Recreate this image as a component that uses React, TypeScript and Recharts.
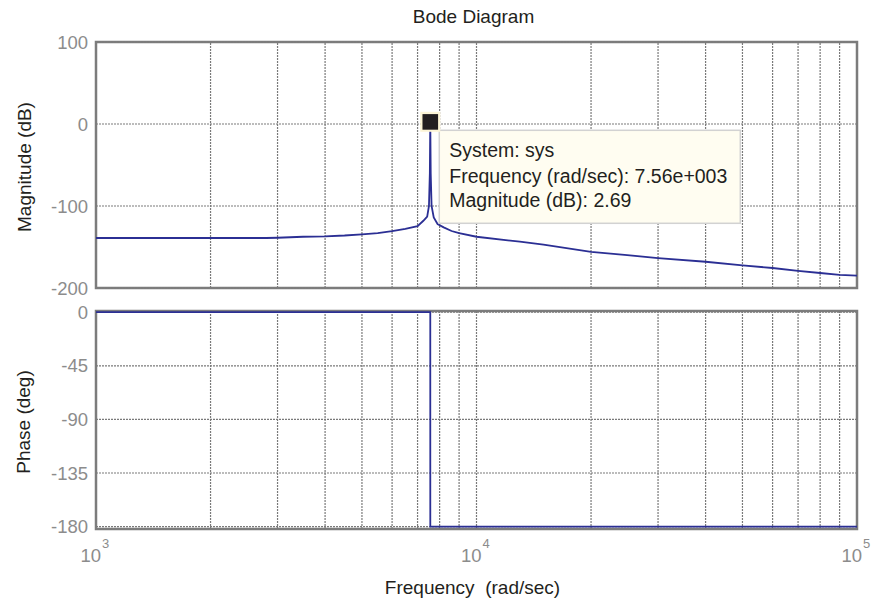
import React from "react";
import { LineChart, Line, XAxis, YAxis, ReferenceLine, ReferenceArea, ReferenceDot } from "recharts";

// magnitude response
const magFreq = [
  1000, 2000, 2800, 3000, 3500, 4000, 4500, 5000, 5500, 6000, 6500, 7000, 7250, 7420, 7500, 7540,
  7560, 7580, 7620, 7720, 7900, 8200, 8600, 9000, 10000, 13000, 15000, 20000, 24500, 30000, 40000,
  50000, 60000, 70000, 80000, 90000, 100000,
];
const magDb = [
  -139, -139, -139, -138.7, -137.5, -137, -136, -134.5, -133, -130.6, -128, -124.5, -118, -113, -100, -60,
  2.69, -60, -100, -114, -122, -126, -130.5, -133, -137.5, -143.5, -147, -156, -159.6, -163.5, -168,
  -172.5, -175.6, -179, -181.7, -184, -185,
];

// phase response
const phaseFreq = [1000, 7560, 7561, 100000];
const phaseDeg = [0, 0, -180, -180];

const gridFreq = [
  2000, 3000, 4000, 5000, 6000, 7000, 8000, 9000, 10000,
  20000, 30000, 40000, 50000, 60000, 70000, 80000, 90000,
];
const decadeTicks = [1000, 10000, 100000];
const magTicks = [-200, -100, 0, 100];
const phaseTicks = [-180, -135, -90, -45, 0];

const tipFreq = 7560;
const tipMag = 2.69;

const magData = magFreq.map((f, i) => ({ f, v: magDb[i] }));
const phaseData = phaseFreq.map((f, i) => ({ f, v: phaseDeg[i] }));

const FONT = "'Liberation Sans', Arial, Helvetica, sans-serif";
const LINE = "#2b2f94";
const GRID = "#7a7a7a";
const FRAME = "#7c7c7c";
const TICK = "#8c8c8c";

function fmtExp(v: number) {
  const e = Math.floor(Math.log10(v));
  const m = v / Math.pow(10, e);
  return `${m.toFixed(2)}e+${String(e).padStart(3, "0")}`;
}

const TipShape = (props: any) => {
  const { cx, cy } = props;
  if (cx == null || cy == null) return null;
  return (
    <g>
      <rect x={cx + 9} y={cy + 8.5} width={301} height={93} fill="#fffdf1" stroke="#d2d2d2" strokeWidth={1.5} />
      <rect x={cx - 10} y={cy - 10} width={20} height={20} fill="#fdf5d6" />
      <rect x={cx - 7.8} y={cy - 7.7} width={15.6} height={15.6} fill="#231f20" />
      <g fontFamily={FONT} fontSize={19.5} fill="#231f20">
        <text x={cx + 19} y={cy + 35.5}>System: sys</text>
        <text x={cx + 19} y={cy + 61.5}>Frequency (rad/sec): {fmtExp(tipFreq)}</text>
        <text x={cx + 19} y={cy + 85}>Magnitude (dB): {tipMag}</text>
      </g>
    </g>
  );
};

const DecadeTick = (props: any) => {
  const { x, y, payload } = props;
  const exp = Math.round(Math.log10(payload.value));
  return (
    <g fontFamily={FONT} fill={TICK}>
      <text x={x + 5} y={y + 25} textAnchor="end" fontSize={18.5}>10</text>
      <text x={x + 6} y={y + 11} textAnchor="start" fontSize={13}>{exp}</text>
    </g>
  );
};

function gridLines(ticksY: number[]) {
  return [
    ...gridFreq.map((f) => (
      <ReferenceLine key={"gx" + f} x={f} stroke={GRID} strokeWidth={1.2} strokeDasharray="2 1" />
    )),
    ...ticksY.map((t) => (
      <ReferenceLine key={"gy" + t} y={t} stroke={GRID} strokeWidth={1.2} strokeDasharray="2 1" />
    )),
  ];
}

export default function App() {
  return (
    <div style={{ position: "absolute", left: 0, top: 0, width: 872, height: 603, background: "#fff", fontFamily: FONT }}>
      {/* titles */}
      <svg width={872} height={603} style={{ position: "absolute", left: 0, top: 0 }}>
        <text x={473.5} y={23} textAnchor="middle" fontSize={19} fill="#231f20">Bode Diagram</text>
        <text x={472.5} y={594} textAnchor="middle" fontSize={19} fill="#231f20" style={{ whiteSpace: "pre" }}>
          {"Frequency  (rad/sec)"}
        </text>
        <text transform="translate(31,167) rotate(-90)" textAnchor="middle" fontSize={19} fill="#231f20">
          Magnitude (dB)
        </text>
        <text transform="translate(30,422) rotate(-90)" textAnchor="middle" fontSize={19} fill="#231f20">
          Phase (deg)
        </text>
      </svg>

      <div style={{ position: "absolute", left: 0, top: 0 }}>
        <LineChart width={872} height={300} data={magData} margin={{ top: 42, right: 15, left: 0, bottom: 12 }}>
          <XAxis dataKey="f" type="number" scale="log" domain={[1000, 100000]} allowDataOverflow hide />
          <YAxis
            type="number"
            domain={[-200, 100]}
            ticks={magTicks}
            width={96}
            axisLine={false}
            tickLine={false}
            tick={{ fill: TICK, fontSize: 18.5, fontFamily: FONT }}
          />
          {gridLines(magTicks)}
          <ReferenceArea x1={1000} x2={100000} y1={-200} y2={100} fill="none" stroke={FRAME} strokeWidth={2.5} />
          <Line dataKey="v" type="linear" stroke={LINE} strokeWidth={1.8} dot={false} isAnimationActive={false} />
          <ReferenceDot x={tipFreq} y={tipMag} shape={TipShape} />
        </LineChart>
      </div>

      <div style={{ position: "absolute", left: 0, top: 300 }}>
        <LineChart width={872} height={303} data={phaseData} margin={{ top: 11, right: 15, left: 0, bottom: 34 }}>
          <XAxis
            dataKey="f"
            type="number"
            scale="log"
            domain={[1000, 100000]}
            allowDataOverflow
            ticks={decadeTicks}
            height={40}
            axisLine={false}
            tickLine={false}
            tick={<DecadeTick />}
            interval={0}
          />
          <YAxis
            type="number"
            domain={[-182, 1]}
            allowDataOverflow
            ticks={phaseTicks}
            width={96}
            axisLine={false}
            tickLine={false}
            tick={{ fill: TICK, fontSize: 18.5, fontFamily: FONT }}
            interval={0}
          />
          {gridLines(phaseTicks)}
          <ReferenceArea x1={1000} x2={100000} y1={-182} y2={1} fill="none" stroke={FRAME} strokeWidth={2.5} />
          <Line dataKey="v" type="linear" stroke={LINE} strokeWidth={1.8} dot={false} isAnimationActive={false} />
        </LineChart>
      </div>
    </div>
  );
}
